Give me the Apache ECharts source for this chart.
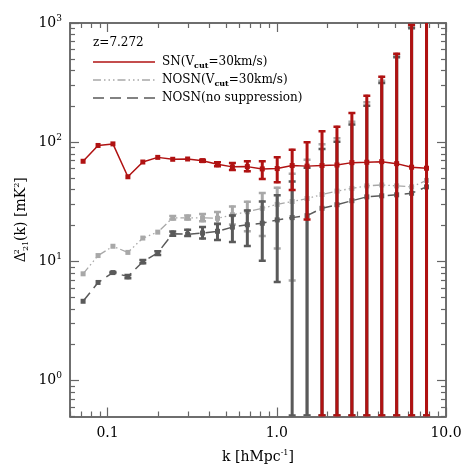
<!DOCTYPE html>
<html lang="en">
<head>
<meta charset="UTF-8">
<title>21cm power spectrum</title>
<script src="https://cdn.jsdelivr.net/npm/echarts@6/dist/echarts.min.js"></script>
<style>
  html, body { margin: 0; padding: 0; background: #fff; }
  #main { width: 469px; height: 469px; }
</style>
</head>
<body>
<div id="main"></div>
<script>
// k bins [h/Mpc]
var kVals = [0.0717, 0.0879, 0.1076, 0.1319, 0.1616, 0.198, 0.2427, 0.2973, 0.3642, 0.4463, 0.5468, 0.67,
             0.821, 1.006, 1.233, 1.51, 1.851, 2.268, 2.779, 3.404, 4.171, 5.11, 6.262, 7.672];

// SN(Vcut=30km/s)
var snVals = [69.2, 93.9, 96.8, 51.3, 68.2, 74.6, 71.9, 72.3, 70.0, 65.4, 62.1, 62.4,
              59.7, 60.1, 63.7, 63.0, 63.7, 64.4, 67.4, 67.9, 68.7, 66.1, 61.7, 60.5];
var snHigh = [null, null, null, null, null, null, null, null, 72.8, 69.2, 68.2, 70.5,
              70.5, 76.1, 88.0, 102, 126, 137.5, 179.5, 250, 361, 564, 981, 1500];
var snLow  = [null, null, null, null, null, null, null, null, 67.2, 61.6, 57.2, 56.1,
              48.2, 45.2, 38.9, 22.0, 0, 0, 0, 0, 0, 0, 0, 0];

// NOSN(Vcut=30km/s)
var nvVals = [7.87, 11.2, 13.4, 11.9, 15.7, 17.6, 23.2, 23.2, 23.2, 23.0, 24.6, 26.1,
              27.9, 30.1, 31.8, 33.7, 36.4, 38.9, 41.0, 43.0, 43.8, 43.0, 42.2, 47.8];
var nvHigh = [null, null, null, null, null, null, 24.5, 24.7, 25.5, 26.5, 29.5, 32.3,
              38.3, 42.4, 55.3, 72.8, 98, 110, 151, 221, 334, 546, 950, 1500];
var nvLow  = [null, null, null, null, null, null, 22.0, 22.0, 21.3, 20.4, 20.0, 17.6,
              16.0, 12.6, 6.8, 0, 0, 0, 0, 0, 0, 0, 0, 0];

// NOSN(no suppression)
var nnVals = [4.63, 6.66, 8.06, 7.47, 9.94, 11.8, 17.1, 16.9, 17.3, 17.9, 19.4, 20.3,
              20.9, 22.3, 23.3, 24.2, 27.9, 29.9, 32.3, 34.8, 35.5, 36.2, 37.3, 42.2];
var nnHigh = [null, null, 8.3, 7.85, 10.5, 12.4, 18.2, 18.8, 19.8, 21.0, 24.7, 27.3,
              32.4, 36.6, 47.8, 62.1, 89.2, 103, 143.6, 206, 320, 525, 920, 1500];
var nnLow  = [null, null, 7.85, 7.1, 9.45, 11.1, 16.1, 16.0, 15.3, 14.8, 14.3, 13.2,
              9.94, 6.58, 0, 0, 0, 0, 0, 0, 0, 0, 0, 0];

// axis ticks
var xMajor = [0.1, 1, 10];
var xLabels = ['0.1', '1.0', '10.0'];
var xMinor = [0.06, 0.07, 0.08, 0.09, 0.2, 0.3, 0.4, 0.5, 0.6, 0.7, 0.8, 0.9,
              2, 3, 4, 5, 6, 7, 8, 9];
var yMajor = [1, 10, 100, 1000];
var yMinor = [0.5, 0.6, 0.7, 0.8, 0.9, 2, 3, 4, 5, 6, 7, 8, 9,
              20, 30, 40, 50, 60, 70, 80, 90, 200, 300, 400, 500, 600, 700, 800, 900];

var xMin = 0.06, xMax = 10, yMin = 0.5, yMax = 1000;
var RED = '#b01212', LGRAY = '#a8a8a8', DGRAY = '#5a5a5a', AXIS = '#666';
var FONT = 'DejaVu Serif';

var myChart = echarts.init(document.getElementById('main'), null, { renderer: 'canvas' });

function pairs(vals) {
    var out = [];
    for (var i = 0; i < kVals.length; i++) out.push([kVals[i], vals[i]]);
    return out;
}
function errData(lo, hi) {
    var out = [];
    for (var i = 0; i < kVals.length; i++) {
        if (lo[i] === null || hi[i] === null) continue;
        out.push([kVals[i], lo[i], hi[i]]);
    }
    return out;
}

// vertical error bar with caps, clipped to the plot box
function errRender(color, lw, capW) {
    return function (params, api) {
        var x = api.value(0), lo = api.value(1), hi = api.value(2);
        var top = api.coord([x, Math.min(hi, yMax)]);
        var bot = api.coord([x, Math.max(lo, yMin)]);
        var kids = [{
            type: 'line',
            shape: { x1: top[0], y1: top[1], x2: bot[0], y2: bot[1] },
            style: { stroke: color, lineWidth: lw }
        }];
        if (hi <= yMax) {
            kids.push({ type: 'line', shape: { x1: top[0] - capW / 2, y1: top[1] + 1, x2: top[0] + capW / 2, y2: top[1] + 1 },
                style: { stroke: color, lineWidth: 2.5 } });
        }
        kids.push({ type: 'line', shape: { x1: bot[0] - capW / 2, y1: bot[1] - 1, x2: bot[0] + capW / 2, y2: bot[1] - 1 },
            style: { stroke: color, lineWidth: 2.5 } });
        return { type: 'group', children: kids };
    };
}

function xAxisDef(pos, ticks, len, withLabel) {
    return {
        type: 'log', logBase: 10, min: xMin, max: xMax, position: pos, gridIndex: 0,
        axisLine: { show: true, onZero: false, lineStyle: { color: AXIS, width: 1.5 } },
        axisTick: { show: true, inside: true, length: len, customValues: ticks, lineStyle: { color: AXIS, width: 1.2 } },
        axisLabel: withLabel ? {
            show: true, customValues: xMajor, margin: 10, color: '#000',
            fontFamily: FONT, fontSize: 14,
            formatter: function (v) {
                for (var i = 0; i < xMajor.length; i++) if (Math.abs(v - xMajor[i]) < 1e-9) return xLabels[i];
                return '';
            }
        } : { show: false },
        splitLine: { show: false },
        name: withLabel ? 'k [hMpc{sup|-1}]' : '',
        nameLocation: 'middle', nameGap: 32, nameMoveOverlap: false,
        nameTextStyle: {
            color: '#000', fontFamily: FONT, fontSize: 14,
            rich: { sup: { fontFamily: FONT, fontSize: 8, padding: [0, 0, 9, 0], color: '#000' } }
        }
    };
}
function yAxisDef(pos, ticks, len, withLabel) {
    return {
        type: 'log', logBase: 10, min: yMin, max: yMax, position: pos, gridIndex: 0,
        axisLine: { show: true, onZero: false, lineStyle: { color: AXIS, width: 1.5 } },
        axisTick: { show: true, inside: true, length: len, customValues: ticks, lineStyle: { color: AXIS, width: 1.2 } },
        axisLabel: withLabel ? {
            show: true, customValues: yMajor, margin: 8, color: '#000',
            fontFamily: FONT, fontSize: 14,
            formatter: function (v) {
                return '10{sup|' + Math.round(Math.log10(v)) + '}';
            },
            rich: { sup: { fontFamily: FONT, fontSize: 9, padding: [0, 0, 9, 0], color: '#000' } }
        } : { show: false },
        splitLine: { show: false },
        name: withLabel ? '\u0394{s2|2}{s21|21}(k) [mK{sup|2}]' : '',
        nameLocation: 'middle', nameGap: 40, nameRotate: 90, nameMoveOverlap: false,
        nameTextStyle: {
            color: '#000', fontFamily: FONT, fontSize: 14,
            rich: {
                s2: { fontFamily: FONT, fontSize: 8, padding: [0, 0, 9, 0], width: 1, color: '#000' },
                s21: { fontFamily: FONT, fontSize: 8, padding: [8, 0, 0, 0], color: '#000' },
                sup: { fontFamily: FONT, fontSize: 8, padding: [0, 0, 9, 0], color: '#000' }
            }
        }
    };
}

var option = {
    backgroundColor: '#fff',
    animation: false,
    grid: { left: 70, right: 23, top: 23, bottom: 47 },
    xAxis: [
        xAxisDef('bottom', xMajor, 9, true),
        xAxisDef('bottom', xMinor, 5, false),
        xAxisDef('top', xMajor, 9, false),
        xAxisDef('top', xMinor, 5, false)
    ],
    yAxis: [
        yAxisDef('left', yMajor, 9, true),
        yAxisDef('left', yMinor, 5, false),
        yAxisDef('right', yMajor, 9, false),
        yAxisDef('right', yMinor, 5, false)
    ],
    series: [
        { type: 'custom', name: 'nvErr', z: 1, clip: true, renderItem: errRender(LGRAY, 3, 7), data: errData(nvLow, nvHigh) },
        { type: 'line', name: 'NOSN(Vcut=30km/s)', z: 2, data: pairs(nvVals), symbol: 'rect', symbolSize: 5,
          lineStyle: { color: LGRAY, width: 1.3, type: [8, 3, 1.5, 3, 1.5, 3, 1.5, 3] }, itemStyle: { color: LGRAY } },
        { type: 'custom', name: 'nnErr', z: 3, clip: true, renderItem: errRender(DGRAY, 3, 7), data: errData(nnLow, nnHigh) },
        { type: 'line', name: 'NOSN(no suppression)', z: 4, data: pairs(nnVals), symbol: 'rect', symbolSize: 5,
          lineStyle: { color: DGRAY, width: 1.5, type: [11, 6] }, itemStyle: { color: DGRAY } },
        { type: 'custom', name: 'snErr', z: 5, clip: true, renderItem: errRender(RED, 3, 7), data: errData(snLow, snHigh) },
        { type: 'line', name: 'SN(Vcut=30km/s)', z: 6, data: pairs(snVals), symbol: 'rect', symbolSize: 5,
          lineStyle: { color: RED, width: 1.5 }, itemStyle: { color: RED } }
    ],
    graphic: [
        { type: 'text', left: 93, top: 37, style: { text: 'z=7.272', fill: '#000', font: '12px "DejaVu Serif"' } },
        { type: 'line', shape: { x1: 93, y1: 62, x2: 155, y2: 62 }, style: { stroke: RED, lineWidth: 1.5 } },
        { type: 'line', shape: { x1: 93, y1: 80, x2: 155, y2: 80 }, style: { stroke: LGRAY, lineWidth: 1.3, lineDash: [8, 3, 1.5, 3, 1.5, 3, 1.5, 3] } },
        { type: 'line', shape: { x1: 93, y1: 98, x2: 155, y2: 98 }, style: { stroke: DGRAY, lineWidth: 1.5, lineDash: [11, 6] } },
        { type: 'text', x: 162, y: 62, style: {
            text: 'SN(V{sub|cut}=30km/s)', fill: '#000', font: '12px "DejaVu Serif"', verticalAlign: 'middle',
            rich: { sub: { font: 'bold 8px "DejaVu Serif"', padding: [7, 0, 0, 0], fill: '#000' } } } },
        { type: 'text', x: 162, y: 80, style: {
            text: 'NOSN(V{sub|cut}=30km/s)', fill: '#000', font: '12px "DejaVu Serif"', verticalAlign: 'middle',
            rich: { sub: { font: 'bold 8px "DejaVu Serif"', padding: [7, 0, 0, 0], fill: '#000' } } } },
        { type: 'text', x: 162, y: 98, style: {
            text: 'NOSN(no suppression)', fill: '#000', font: '12px "DejaVu Serif"', verticalAlign: 'middle' } }
    ]
};
myChart.setOption(option);
</script>
</body>
</html>
